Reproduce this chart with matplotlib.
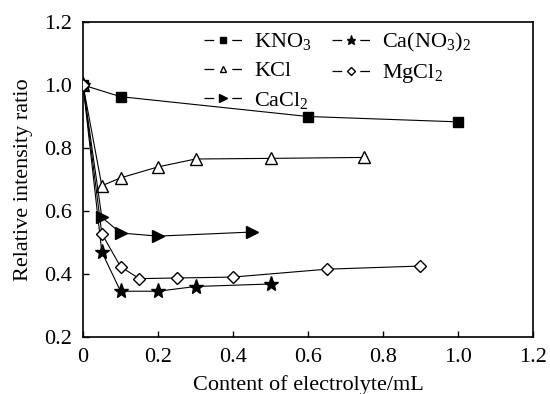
import matplotlib
matplotlib.use("Agg")
import matplotlib.pyplot as plt
from matplotlib.lines import Line2D

plt.rcParams['font.family'] = ['Liberation Serif', 'DejaVu Serif']
plt.rcParams['mathtext.fontset'] = 'custom'
plt.rcParams['mathtext.rm'] = 'Liberation Serif'
plt.rcParams['mathtext.it'] = 'Liberation Serif'
plt.rcParams['lines.scale_dashes'] = False

# data
x_kno3 = [0, 0.1, 0.6, 1.0]
y_kno3 = [1.0, 0.963, 0.900, 0.883]

x_kcl = [0, 0.05, 0.1, 0.2, 0.3, 0.5, 0.75]
y_kcl = [1.0, 0.680, 0.705, 0.740, 0.765, 0.767, 0.770]

x_cacl2 = [0, 0.05, 0.1, 0.2, 0.45]
y_cacl2 = [1.0, 0.580, 0.530, 0.520, 0.533]

x_cano3 = [0, 0.05, 0.1, 0.2, 0.3, 0.5]
y_cano3 = [1.0, 0.470, 0.345, 0.345, 0.360, 0.368]

x_mgcl2 = [0, 0.05, 0.1, 0.15, 0.25, 0.4, 0.65, 0.9]
y_mgcl2 = [1.0, 0.528, 0.423, 0.385, 0.387, 0.390, 0.415, 0.425]

labels = ['KNO$_3$', 'KCl', 'CaCl$_2$', 'Ca(NO$_3$)$_2$', 'MgCl$_2$']

fig = plt.figure(figsize=(5.5, 3.94), dpi=100)
ax = fig.add_axes([0.151, 0.145, 0.818, 0.799])

lw = 0.8
styles = [
    dict(marker='s', ms=7, mfc='black'),
    dict(marker='^', ms=8, mfc='white'),
    dict(marker='>', ms=9, mfc='black'),
    dict(marker='*', ms=11, mfc='black'),
    dict(marker='D', ms=6.5, mfc='white'),
]
series = [(x_kno3, y_kno3), (x_kcl, y_kcl), (x_cacl2, y_cacl2),
          (x_cano3, y_cano3), (x_mgcl2, y_mgcl2)]

handles = []
for (xs, ys), st, lab in zip(series, styles, labels):
    ax.plot(xs, ys, '-', color='black', lw=lw, mec='black', zorder=3, **st)
    h = Line2D([], [], color='black', lw=0.9, marker=st['marker'],
               ms=st['ms'] * 0.6, mfc=st['mfc'], mec='black',
               linestyle=(0, (7, 13)), label=lab)
    handles.append(h)

ax.set_xlim(0, 1.2)
ax.set_ylim(0.2, 1.2)
ax.set_xticks([0, 0.2, 0.4, 0.6, 0.8, 1.0, 1.2])
ax.set_xticklabels(['0', '0.2', '0.4', '0.6', '0.8', '1.0', '1.2'])
ax.set_yticks([0.2, 0.4, 0.6, 0.8, 1.0, 1.2])
ax.set_yticklabels(['0.2', '0.4', '0.6', '0.8', '1.0', '1.2'])
ax.tick_params(direction='in', labelsize=16, length=4, width=1)
ax.tick_params(axis='x', pad=8)
ax.tick_params(axis='y', pad=8)
for s in ax.spines.values():
    s.set_linewidth(1.2)

ax.set_xlabel('Content of electrolyte/mL', fontsize=16, labelpad=6)
ax.set_ylabel('Relative intensity ratio', fontsize=16, labelpad=8)

ax.legend(handles=handles, ncol=2, loc='upper left', frameon=False,
          fontsize=16, handlelength=1.7, columnspacing=0.9,
          labelspacing=0.38, handletextpad=0.55,
          bbox_to_anchor=(0.25, 1.0), borderaxespad=0.0)

fig.savefig('out.png', dpi=100)
